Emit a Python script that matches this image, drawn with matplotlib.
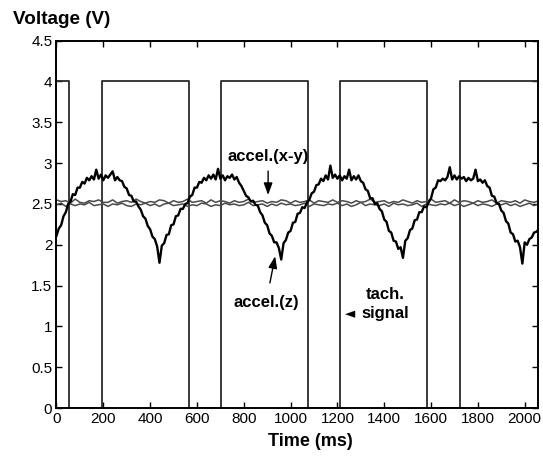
import numpy as np
import matplotlib
matplotlib.use("Agg")
import matplotlib.pyplot as plt

plt.rcParams['font.family'] = ['Liberation Sans', 'DejaVu Sans']

# ---- data ----
# tachometer square wave: edge times (ms) and level after each edge (V)
tach_t = [0, 55, 195, 564, 703, 1073, 1209, 1582, 1723, 2060]
tach_v = [4.0, 0.0, 4.0, 0.0, 4.0, 0.0, 4.0, 0.0, 4.0, 4.0]

# accel.(z) sampled every 10 ms from 0 to 2060 ms
z_t = list(range(0, 2070, 10))
z_v = [
    2.11, 2.20, 2.24, 2.35, 2.40, 2.50, 2.53, 2.62, 2.61, 2.70,
    2.70, 2.77, 2.75, 2.82, 2.79, 2.84, 2.80, 2.92, 2.81, 2.86,
    2.79, 2.85, 2.82, 2.86, 2.90, 2.79, 2.83, 2.79, 2.78, 2.71,
    2.69, 2.61, 2.60, 2.53, 2.53, 2.47, 2.43, 2.35, 2.32, 2.23,
    2.19, 2.10, 2.07, 1.98, 1.78, 1.99, 2.02, 2.12, 2.13, 2.24,
    2.25, 2.35, 2.36, 2.44, 2.44, 2.50, 2.51, 2.59, 2.61, 2.70,
    2.70, 2.77, 2.76, 2.82, 2.79, 2.85, 2.81, 2.86, 2.80, 2.93,
    2.81, 2.85, 2.79, 2.84, 2.82, 2.86, 2.80, 2.83, 2.76, 2.72,
    2.66, 2.60, 2.58, 2.53, 2.54, 2.49, 2.48, 2.40, 2.36, 2.27,
    2.24, 2.14, 2.11, 2.03, 2.03, 1.96, 1.82, 2.02, 2.06, 2.15,
    2.17, 2.27, 2.28, 2.38, 2.39, 2.46, 2.45, 2.52, 2.55, 2.63,
    2.65, 2.73, 2.74, 2.81, 2.78, 2.85, 2.80, 2.97, 2.82, 2.86,
    2.81, 2.85, 2.79, 2.84, 2.81, 2.92, 2.79, 2.84, 2.80, 2.85,
    2.78, 2.76, 2.68, 2.66, 2.57, 2.57, 2.50, 2.51, 2.44, 2.41,
    2.31, 2.28, 2.17, 2.15, 2.05, 2.04, 1.95, 1.97, 1.84, 2.05,
    2.08, 2.18, 2.20, 2.30, 2.31, 2.40, 2.40, 2.47, 2.46, 2.52,
    2.57, 2.68, 2.70, 2.79, 2.78, 2.81, 2.79, 2.83, 2.95, 2.80,
    2.85, 2.80, 2.84, 2.81, 2.83, 2.78, 2.82, 2.79, 2.81, 2.92,
    2.78, 2.80, 2.76, 2.79, 2.72, 2.70, 2.60, 2.59, 2.51, 2.50,
    2.42, 2.39, 2.29, 2.26, 2.15, 2.13, 2.04, 2.05, 1.97, 1.77,
    2.03, 2.00, 2.07, 2.09, 2.15, 2.16, 2.19,
]

# accel.(x-y): two traces sampled every 20 ms
xy_t = list(range(0, 2080, 20))
xy_a = [
    2.55, 2.53, 2.54, 2.51, 2.56, 2.52, 2.51, 2.54, 2.53, 2.55,
    2.52, 2.52, 2.55, 2.51, 2.53, 2.54, 2.52, 2.56, 2.53, 2.51,
    2.53, 2.52, 2.55, 2.54, 2.51, 2.54, 2.52, 2.53, 2.56, 2.52,
    2.53, 2.54, 2.51, 2.55, 2.52, 2.54, 2.53, 2.51, 2.54, 2.52,
    2.53, 2.56, 2.52, 2.53, 2.54, 2.51, 2.53, 2.52, 2.55, 2.54,
    2.51, 2.54, 2.52, 2.53, 2.55, 2.51, 2.54, 2.53, 2.52, 2.55,
    2.52, 2.54, 2.53, 2.51, 2.54, 2.52, 2.53, 2.56, 2.52, 2.53,
    2.54, 2.51, 2.53, 2.52, 2.55, 2.53, 2.51, 2.54, 2.52, 2.53,
    2.56, 2.52, 2.53, 2.54, 2.51, 2.55, 2.52, 2.54, 2.53, 2.51,
    2.54, 2.52, 2.53, 2.55, 2.51, 2.54, 2.53, 2.52, 2.54, 2.51,
    2.55, 2.53, 2.52, 2.54,
]
xy_b = [
    2.49, 2.51, 2.47, 2.50, 2.48, 2.50, 2.49, 2.52, 2.48, 2.49,
    2.50, 2.47, 2.50, 2.49, 2.51, 2.48, 2.47, 2.50, 2.49, 2.51,
    2.48, 2.50, 2.47, 2.50, 2.51, 2.48, 2.49, 2.50, 2.47, 2.49,
    2.48, 2.51, 2.50, 2.47, 2.49, 2.48, 2.51, 2.49, 2.50, 2.48,
    2.49, 2.52, 2.48, 2.49, 2.50, 2.47, 2.50, 2.48, 2.51, 2.49,
    2.50, 2.48, 2.49, 2.51, 2.47, 2.50, 2.49, 2.48, 2.50, 2.49,
    2.51, 2.48, 2.50, 2.47, 2.49, 2.52, 2.48, 2.50, 2.49, 2.48,
    2.50, 2.47, 2.51, 2.49, 2.50, 2.48, 2.49, 2.51, 2.47, 2.50,
    2.49, 2.48, 2.50, 2.49, 2.51, 2.48, 2.50, 2.47, 2.49, 2.51,
    2.48, 2.50, 2.49, 2.47, 2.50, 2.49, 2.51, 2.48, 2.50, 2.47,
    2.49, 2.51, 2.48, 2.50,
]

x_ticks = [0, 200, 400, 600, 800, 1000, 1200, 1400, 1600, 1800, 2000]
y_ticks = [0, 0.5, 1, 1.5, 2, 2.5, 3, 3.5, 4, 4.5]
y_ticklabels = ['0', '0.5', '1', '1.5', '2', '2.5', '3', '3.5', '4', '4.5']

# ---- figure ----
fig = plt.figure(figsize=(5.43, 4.57), dpi=100)
ax = fig.add_axes([0.104, 0.107, 0.886, 0.804])

ax.plot(tach_t, tach_v, drawstyle='steps-post', color='#2a2a2a', lw=1.3)
ax.plot(xy_t, xy_a, color='#4a4a4a', lw=1.1)
ax.plot(xy_t, xy_b, color='#4a4a4a', lw=1.1)
ax.plot(z_t, z_v, color='black', lw=1.7)

ax.set_xlim(0, 2055)
ax.set_ylim(0, 4.5)
ax.set_xticks(x_ticks)
ax.set_xticklabels([str(v) for v in x_ticks])
ax.set_yticks(y_ticks)
ax.set_yticklabels(y_ticklabels)
ax.tick_params(direction='in', length=4, width=1, top=True, right=True,
               labelsize=11, pad=3)
for s in ax.spines.values():
    s.set_linewidth(1.4)

fig.text(0.024, 0.958, 'Voltage (V)', fontsize=13.6, fontweight='bold',
         ha='left', va='center')
fig.text(0.571, 0.035, 'Time (ms)', fontsize=13, fontweight='bold',
         ha='center', va='center')

# annotations
ax.annotate('accel.(x-y)', xy=(904, 2.61), xytext=(904, 3.08),
            ha='center', va='center', fontsize=12, fontweight='bold',
            arrowprops=dict(arrowstyle='-|>,head_length=0.6,head_width=0.22',
                            color='black', lw=1.0, shrinkA=3, shrinkB=0))
ax.annotate('accel.(z)', xy=(934, 1.86), xytext=(895, 1.29),
            ha='center', va='center', fontsize=12, fontweight='bold',
            arrowprops=dict(arrowstyle='-|>,head_length=0.6,head_width=0.22',
                            color='black', lw=1.0, shrinkA=7, shrinkB=0))
ax.text(1404, 1.275, 'tach.\nsignal', ha='center', va='center',
        fontsize=12, fontweight='bold', linespacing=1.4)
ax.annotate('', xy=(1233, 1.15), xytext=(1280, 1.15),
            arrowprops=dict(arrowstyle='-|>,head_length=0.7,head_width=0.25',
                            color='black', lw=0.1, shrinkA=0, shrinkB=0))

fig.savefig('out.png', dpi=100)
